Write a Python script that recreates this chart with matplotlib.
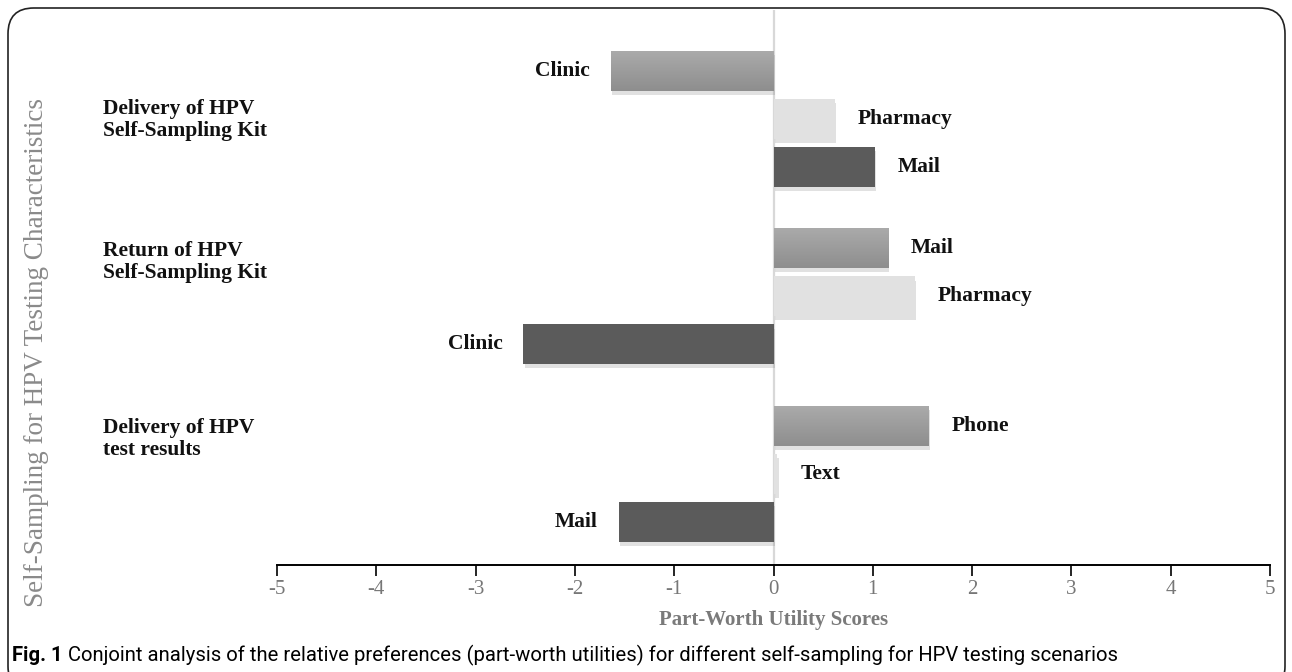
import numpy as np
import matplotlib
matplotlib.use("Agg")
import matplotlib.pyplot as plt
import matplotlib.patheffects as pe
from matplotlib.patches import FancyBboxPatch

# attributes, levels and part-worth utilities
groups = ["Delivery of HPV\nSelf-Sampling Kit",
          "Return of HPV\nSelf-Sampling Kit",
          "Delivery of HPV\ntest results"]
levels = [["Clinic", "Pharmacy", "Mail"],
          ["Mail", "Pharmacy", "Clinic"],
          ["Phone", "Text", "Mail"]]
utilities = [[-1.64, 0.62, 1.02],
             [1.15, 1.42, -2.52],
             [1.56, 0.04, -1.56]]
xticks = [-5, -4, -3, -2, -1, 0, 1, 2, 3, 4, 5]

bar_colors = ["#9d9d9d", "#e1e1e1", "#5b5b5b"]
serif = "Liberation Serif"

fig = plt.figure(figsize=(12.92, 6.72), dpi=100)
ax = fig.add_axes([0.2144, 0.1592, 0.7686, 0.826])

group_step = 3.7
bar_h = 0.83
shadow = [pe.SimplePatchShadow(offset=(1, -3), shadow_rgbFace="#888888", alpha=0.25),
          pe.Normal()]

for g, (name, labs, vals) in enumerate(zip(groups, levels, utilities)):
    for i, (lab, v) in enumerate(zip(labs, vals)):
        y = g * group_step + i
        bar = ax.barh(y, v, height=bar_h, color=bar_colors[i], zorder=3)[0]
        bar.set_path_effects(shadow)
        if i == 0:
            # soft vertical gradient on the first bar of each group
            grad = np.linspace(0, 1, 50).reshape(-1, 1)
            im = ax.imshow(grad, cmap=matplotlib.colors.LinearSegmentedColormap.from_list(
                "g", ["#aaaaaa", "#8e8e8e"]), aspect="auto",
                extent=(min(0, v), max(0, v), y + bar_h / 2, y - bar_h / 2), zorder=4)
            im.set_clip_path(bar)
        if v < 0:
            ax.text(v - 0.21, y, lab, ha="right", va="center", fontsize=15.5,
                    fontweight="bold", family=serif, color="#111111")
        else:
            ax.text(v + 0.23, y, lab, ha="left", va="center", fontsize=15.5,
                    fontweight="bold", family=serif, color="#111111")

# group labels on the left
group_label_y = [1.02, 3.98, 7.67]
for name, gy in zip(groups, group_label_y):
    ax.text(-0.175, gy, name, transform=ax.get_yaxis_transform(), ha="left",
            va="center", fontsize=15.5, fontweight="bold", family=serif,
            color="#111111", linespacing=1.15)

ax.axvline(0, color="#d8d8d8", lw=1.6, zorder=1)

ax.set_xlim(-5, 5)
ax.set_ylim(10.3, -1.27)
ax.set_xticks(xticks)
ax.set_xticklabels([str(t) for t in xticks], family=serif, fontsize=15, color="#777777")
ax.set_yticks([])
for s in ["top", "right", "left"]:
    ax.spines[s].set_visible(False)
ax.spines["bottom"].set_linewidth(1.4)
ax.tick_params(axis="x", length=8, width=1.2, pad=3)
ax.set_xlabel("Part-Worth Utility Scores", family=serif, fontsize=15,
              fontweight="bold", color="#7a7a7a", labelpad=8)

fig.text(0.0286, 0.476, "Self-Sampling for HPV Testing Characteristics", rotation=90,
         ha="center", va="center", family=serif, fontsize=19.5, color="#8a8a8a")

# rounded frame around the figure
frame = FancyBboxPatch((8 / 1292, -20 / 672), 1277 / 1292, 684 / 672,
                       boxstyle="round,pad=0,rounding_size=0.02",
                       transform=fig.transFigure, fill=False, lw=1.2,
                       edgecolor="#222222", mutation_aspect=1292 / 672)
fig.patches.append(frame)

cap_font = "Roboto"
t1 = fig.text(12 / 1292, 0.016, "Fig. 1", family=cap_font, fontweight="bold",
              fontsize=14.6, va="baseline")
fig.canvas.draw()
bb = t1.get_window_extent()
t2 = fig.text((bb.x1 + 6) / 1292, 0.016,
              "Conjoint analysis of the relative preferences (part-worth utilities) "
              "for different self-sampling for HPV testing scenarios",
              family=cap_font, fontsize=14.6, va="baseline")

fig.savefig("out.png", dpi=100)
